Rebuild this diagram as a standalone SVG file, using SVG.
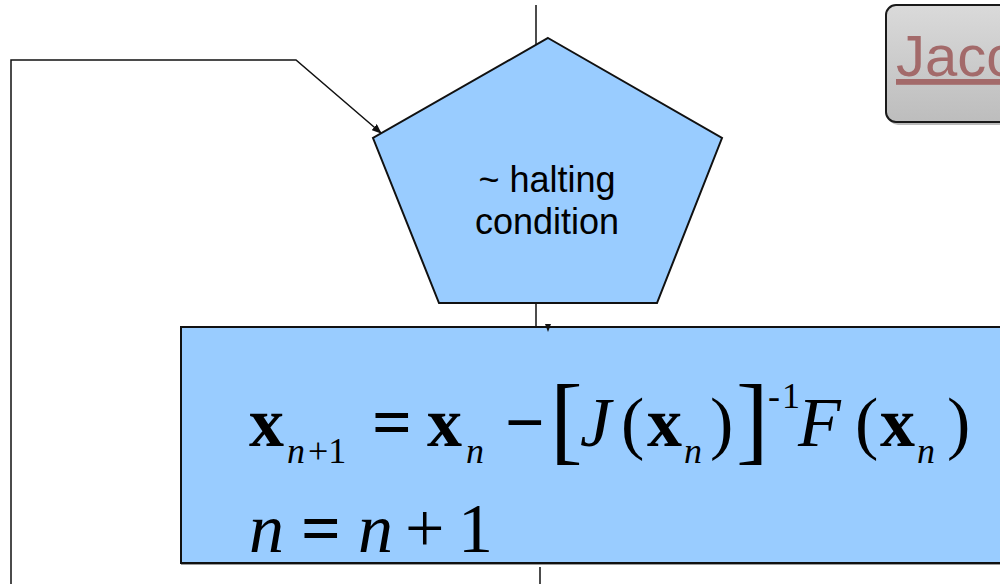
<svg xmlns="http://www.w3.org/2000/svg" width="1000" height="584" viewBox="0 0 1000 584">
<defs>
<linearGradient id="btn" x1="0" y1="0" x2="0" y2="1">
<stop offset="0" stop-color="#dadada"/>
<stop offset="1" stop-color="#bdbdbd"/>
</linearGradient>
<marker id="arr" markerWidth="10" markerHeight="8" refX="9" refY="4" orient="auto" markerUnits="userSpaceOnUse">
<path d="M0,0 L10,4 L0,8 Z" fill="#111"/>
</marker>
<style>
.shape{fill:#99ccff;stroke:#111;stroke-width:2}
.conn{fill:none;stroke:#111;stroke-width:1.5}
.lbl{font-family:"Liberation Sans",Arial,sans-serif;font-size:36px;fill:#000;text-anchor:middle}
.m{font-family:"Liberation Serif","Times New Roman",serif;font-size:70px;fill:#000}
.b{font-weight:bold}
.i{font-style:italic}
.s{font-size:36px}
.br{font-size:98px}
</style>
</defs>
<rect width="1000" height="584" fill="#fff"/>
<g id="connectors">
<path class="conn" d="M11,584 L11,60 L296,60 L381,133" marker-end="url(#arr)"/>
<line class="conn" x1="536" y1="5" x2="536" y2="45"/>
<line class="conn" x1="536" y1="303" x2="536" y2="331"/>
<line class="conn" x1="540" y1="567" x2="540" y2="584"/>
</g>
<g id="halting">
<polygon class="shape" points="548,38 722,138 657,303 439,303 373,138"/>
<text class="lbl" x="547" y="192">~ halting</text>
<text class="lbl" x="547" y="234">condition</text>
</g>
<g id="update">
<rect x="181" y="329" width="830" height="236" fill="#9a9a9a"/>
<rect class="shape" x="181" y="327" width="830" height="236"/>
<path d="M545,324 L551,324 L548,332 Z" fill="#111"/>
<text class="m b" x="249" y="446">x</text>
<text class="m i s" x="287" y="463">n</text>
<text class="m s" x="308" y="463">+1</text>
<text class="m b" x="372" y="446">=</text>
<text class="m b" x="427" y="446">x</text>
<text class="m i s" x="466" y="463">n</text>
<text class="m b" x="505" y="446">−</text>
<text class="m br" x="550" y="452">[</text>
<text class="m i" x="580" y="446">J</text>
<text class="m" x="621" y="446">(</text>
<text class="m b" x="647" y="446">x</text>
<text class="m i s" x="684" y="463">n</text>
<text class="m" x="710" y="446">)</text>
<text class="m br" x="736" y="452">]</text>
<text class="m s" x="768" y="408">-</text>
<text class="m s" x="782" y="408">1</text>
<text class="m i" x="798" y="446">F</text>
<text class="m" x="855" y="446">(</text>
<text class="m b" x="880" y="446">x</text>
<text class="m i s" x="917" y="463">n</text>
<text class="m" x="947" y="446">)</text>
<text class="m i" x="249" y="552">n</text>
<text class="m b" x="301" y="552">=</text>
<text class="m i" x="358" y="552">n</text>
<text class="m" x="405" y="552">+</text>
<text class="m" x="458" y="552">1</text>
</g>
<g id="jacobian-button">
<rect x="888" y="9" width="140" height="116" rx="10" fill="#777" opacity="0.5"/>
<rect x="886" y="5" width="140" height="117" rx="10" fill="url(#btn)" stroke="#1a1a1a" stroke-width="2"/>
<text x="896" y="76" font-family="'Liberation Sans',Arial,sans-serif" font-size="58" fill="#a36a6a" text-decoration="underline">Jaco</text>
</g>
</svg>
